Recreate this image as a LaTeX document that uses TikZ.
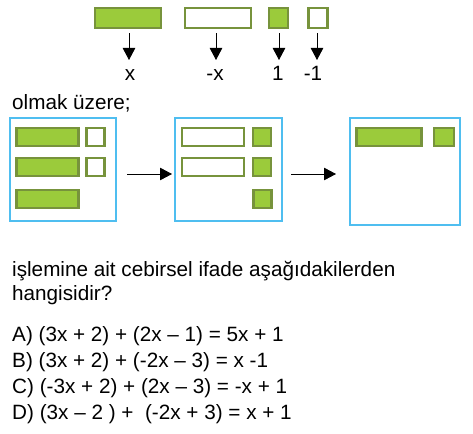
\documentclass[tikz,border=0pt]{standalone}
\usepackage{fontspec}
\setmainfont{Liberation Sans}
\usetikzlibrary{arrows.meta}
\definecolor{tilegreen}{RGB}{155,203,59}
\definecolor{tileline}{RGB}{119,147,60}
\definecolor{boxblue}{RGB}{79,190,240}
\begin{document}
\begin{tikzpicture}[x=1pt,y=-1pt,
    txt/.style={inner sep=0pt,anchor=base west,font=\fontsize{20.7}{25}\selectfont},
    lbl/.style={inner sep=0pt,anchor=base,font=\fontsize{20.7}{25}\selectfont},
    algtile/.style={draw=tileline,line width=2.2pt,inner sep=0pt},
    plustile/.style={algtile,fill=tilegreen},
    minustile/.style={algtile,fill=white},
    bigbar/.style={minimum width=66pt,minimum height=20pt},
    bigsq/.style={minimum width=19pt,minimum height=20pt},
    smallbar/.style={minimum width=62pt,minimum height=18pt},
    smallsq/.style={minimum width=18pt,minimum height=18pt},
    blueframe/.style={draw=boxblue,line width=2pt,inner sep=0pt},
    arr/.style={-{Triangle[length=12pt,width=12.5pt]},line width=0.9pt}]
  \useasboundingbox (0,0) rectangle (473,433);
  % legend
  \node[plustile,bigbar] (lx) at (128,18) {};
  \node[minustile,bigbar] (lmx) at (218,18) {};
  \node[plustile,bigsq] (lone) at (278.5,18) {};
  \node[minustile,bigsq] (lmone) at (318,18) {};
  \coordinate (ax) at (129,60);
  \coordinate (amx) at (216,60);
  \coordinate (aone) at (279,60);
  \coordinate (amone) at (317,60);
  \draw[arr] (lx.south -| ax) ++(0,4) -- (ax);
  \draw[arr] (lmx.south -| amx) ++(0,4) -- (amx);
  \draw[arr] (lone.south -| aone) ++(0,4) -- (aone);
  \draw[arr] (lmone.south -| amone) ++(0,4) -- (amone);
  \node[lbl] (tx) at (130,81) {x};
  \node[lbl] (tmx) at (215,81) {-x};
  \node[lbl] (tone) at (278,81) {1};
  \node[lbl] (tmone) at (313,81) {-1};
  \node[txt] (given) at (12,109.5) {olmak üzere;};
  % boxes
  \node[blueframe,minimum width=106pt,minimum height=103pt] (box1) at (63,169.2) {};
  \node[blueframe,minimum width=107pt,minimum height=103pt] (box2) at (228.3,169.2) {};
  \node[blueframe,minimum width=110pt,minimum height=107pt] (box3) at (405,171.3) {};
  \node[plustile,smallbar] (b1a) at (47.5,136.7) {};
  \node[minustile,smallsq] (b1b) at (95.5,136.7) {};
  \node[plustile,smallbar] (b1c) at (47.5,167) {};
  \node[minustile,smallsq] (b1d) at (95.5,167) {};
  \node[plustile,smallbar] (b1e) at (47.5,198.8) {};
  \node[minustile,smallbar] (b2a) at (213.2,136.7) {};
  \node[plustile,smallsq] (b2b) at (261.7,136.7) {};
  \node[minustile,smallbar] (b2c) at (213.2,167) {};
  \node[plustile,smallsq] (b2d) at (261.7,167) {};
  \node[plustile,smallsq] (b2e) at (262.5,198.8) {};
  \node[plustile,smallbar,minimum width=65pt] (b3a) at (389,136.8) {};
  \node[plustile,smallsq,minimum width=20pt] (b3b) at (444.3,136.8) {};
  \coordinate (s1) at (127,174);
  \coordinate (e1) at (172,174);
  \coordinate (s2) at (291,174);
  \coordinate (e2) at (336,174);
  \draw[arr] (s1) -- (e1);
  \draw[arr] (s2) -- (e2);
  % question
  \node[txt] (q1) at (12,276) {işlemine ait cebirsel ifade aşağıdakilerden};
  \node[txt] (q2) at (12,300) {hangisidir?};
  \node[txt] (oa) at (12,341.7) {A) (3x + 2) + (2x – 1) = 5x + 1};
  \node[txt] (ob) at (12,367.7) {B) (3x + 2) + (-2x – 3) = x -1};
  \node[txt] (oc) at (12,393.3) {C) (-3x + 2) + (2x – 3) = -x + 1};
  \node[txt] (od) at (12,419) {D) (3x – 2 ) +\ \ (-2x + 3) = x + 1};
\end{tikzpicture}
\end{document}
